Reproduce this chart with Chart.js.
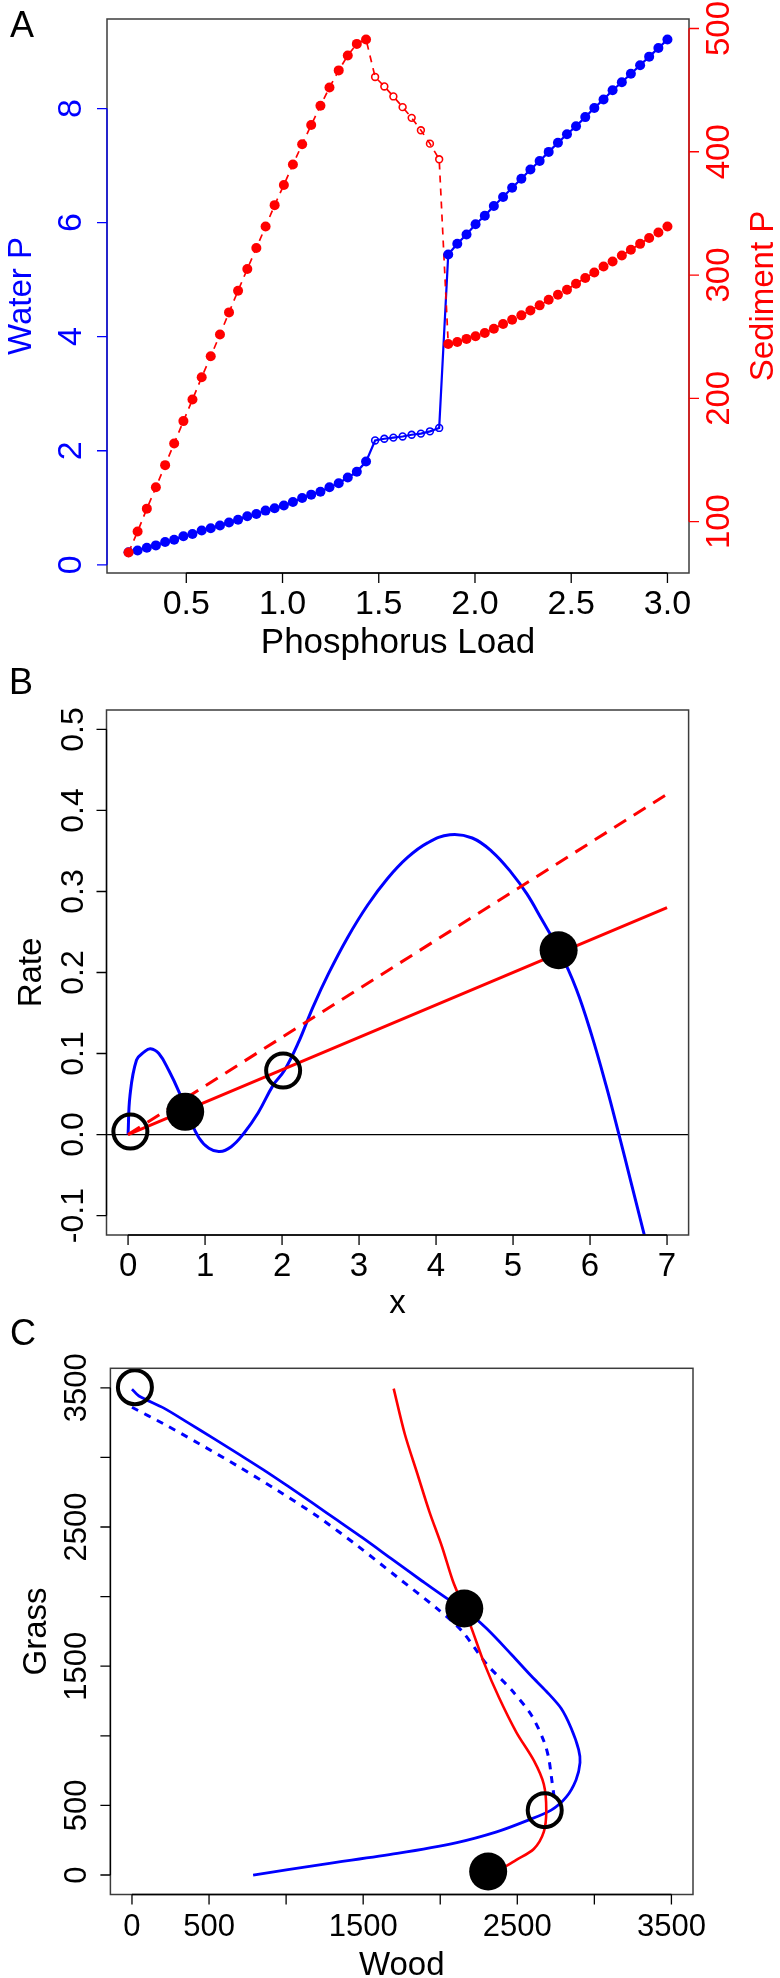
<!DOCTYPE html>
<html>
<head>
<meta charset="utf-8">
<script src="https://cdn.jsdelivr.net/npm/chart.js@4.4.1/dist/chart.umd.min.js"></script>
<style>
html,body{margin:0;padding:0;background:#fff;}
body{width:780px;height:1978px;position:relative;overflow:hidden;}
.panel{position:absolute;left:0;width:780px;}
canvas{display:block;}
</style>
</head>
<body>
<div class="panel" style="top:0;height:665px"><canvas id="cA" width="780" height="665"></canvas></div>
<div class="panel" style="top:655px;height:665px"><canvas id="cB" width="780" height="665"></canvas></div>
<div class="panel" style="top:1310px;height:668px"><canvas id="cC" width="780" height="668"></canvas></div>
<script>
// ---------------- DATA ----------------
// Panel A
const A_load = [0.200,0.247,0.295,0.342,0.390,0.437,0.485,0.532,0.580,0.627,0.675,0.722,0.769,0.817,0.864,0.912,0.959,1.007,1.054,1.102,1.149,1.197,1.244,1.292,1.339,1.386,1.434,1.481,1.529,1.576,1.624,1.671,1.719,1.766,1.814,1.861,1.908,1.956,2.003,2.051,2.098,2.146,2.193,2.241,2.288,2.336,2.383,2.431,2.478,2.525,2.573,2.620,2.668,2.715,2.763,2.810,2.858,2.905,2.953,3.000];
const A_waterP = [0.22,0.25,0.30,0.34,0.40,0.44,0.50,0.54,0.60,0.64,0.69,0.74,0.79,0.85,0.89,0.95,0.99,1.04,1.10,1.17,1.23,1.28,1.36,1.43,1.53,1.63,1.81,
  2.18,2.21,2.23,2.25,2.28,2.30,2.34,2.40,
  5.44,5.63,5.79,5.97,6.12,6.29,6.45,6.61,6.77,6.93,7.08,7.24,7.40,7.55,7.69,7.85,8.01,8.16,8.32,8.46,8.61,8.76,8.91,9.06,9.21];
const A_sedimentP = [74.9,91.9,110.5,127.8,145.8,163.4,181.5,199.0,217.1,234.1,251.7,269.7,287.3,304.9,321.9,339.4,356.7,373.1,389.6,406.1,421.7,437.3,452.2,466.0,478.1,487.5,491.1,
  460.7,453.0,444.9,436.2,427.5,417.4,406.6,393.9,
  244.1,245.7,248.2,250.3,253.0,256.5,260.3,263.8,267.3,271.3,275.4,280.0,284.0,288.1,292.9,297.6,302.1,307.0,311.0,315.9,320.5,325.3,330.0,334.5,339.4];
const A_stable = [1,1,1,1,1,1,1,1,1,1,1,1,1,1,1,1,1,1,1,1,1,1,1,1,1,1,1,
  0,0,0,0,0,0,0,0,
  1,1,1,1,1,1,1,1,1,1,1,1,1,1,1,1,1,1,1,1,1,1,1,1,1];
const A_xTicks = [0.5,1.0,1.5,2.0,2.5,3.0];
const A_xTickLabels = ['0.5','1.0','1.5','2.0','2.5','3.0'];
const A_leftTicks = [0,2,4,6,8];
const A_leftTickLabels = ['0','2','4','6','8'];
const A_rightTicks = [100,200,300,400,500];
const A_rightTickLabels = ['100','200','300','400','500'];

// Panel B
const B_x = [0,0.025,0.11,0.21,0.29,0.40,0.53,0.66,0.79,0.92,1.05,1.19,1.34,1.50,1.69,1.885,2.03,2.21,2.40,2.60,2.85,3.11,3.37,3.63,3.89,4.18,4.47,4.73,4.98,5.18,5.37,5.60,5.82,6.02,6.21,6.37,6.53,6.71];
const B_rate = [0.000,0.048,0.092,0.102,0.106,0.100,0.079,0.053,0.022,-0.004,-0.017,-0.021,-0.015,0.001,0.027,0.061,0.079,0.113,0.157,0.198,0.243,0.283,0.316,0.342,0.360,0.370,0.366,0.349,0.323,0.297,0.266,0.227,0.180,0.123,0.060,0.002,-0.058,-0.126];
const B_lossX = [0,7];
const B_lossLow = [0,0.28];
const B_lossHigh = [0,0.42];
const B_stableX = [0.742,5.592];
const B_stableY = [0.028,0.2275];
const B_unstableX = [0.03,2.014];
const B_unstableY = [0.0036,0.0789];
const B_xTicks = [0,1,2,3,4,5,6,7];
const B_xTickLabels = ['0','1','2','3','4','5','6','7'];
const B_yTicks = [-0.1,0,0.1,0.2,0.3,0.4,0.5];
const B_yTickLabels = ['-0.1','0.0','0.1','0.2','0.3','0.4','0.5'];

// Panel C
const C_blueSolidWood  = [0,45,207,368,529,690,851,1012,1173,1334,1495,1689,1882,2043,2156,2301,2462,2591,2688,2785,2849,2898,2907,2881,2817,2720,2559,2366,2108,1721,1238,786];
const C_blueSolidGrass = [3490,3441,3354,3246,3137,3025,2912,2793,2671,2547,2423,2267,2112,1987,1910,1770,1584,1429,1320,1196,1056,901,807,683,559,466,389,310,233,155,77,0];
const C_blueDotWood  = [0,207,433,690,948,1205,1463,1721,1978,2139,2301,2462,2591,2672,2704,2720,2743];
const C_blueDotGrass = [3360,3240,3100,2935,2760,2575,2365,2140,1915,1755,1515,1330,1149,963,839,715,528];
const C_redWood  = [1698,1770,1850,1930,2011,2082,2140,2204,2285,2382,2494,2607,2672,2688,2672,2607,2494,2398,2330];
const C_redGrass = [3494,3168,2888,2609,2360,2112,1956,1770,1522,1273,1025,823,652,466,310,187,109,47,30];
const C_stableWood = [2156,2311];
const C_stableGrass = [1915,25];
const C_unstableWood = [19,2678];
const C_unstableGrass = [3504,466];
const C_ticks = [0,500,1000,1500,2000,2500,3000,3500];
const C_tickLabels = ['0','500','','1500','','2500','','3500'];

// ---------------- HELPERS ----------------
const BLUE = '#0000FF', RED = '#FF0000', BLACK = '#000000';
const FAM = '"Liberation Sans", Arial, Helvetica, sans-serif';
const font = s => s + 'px ' + FAM;
const TICKLEN = 10, LETTERFONT = 36;
const xy = (xs, ys) => xs.map((x, i) => ({x: x, y: ys[i]}));

function vText(ctx, txt, xBase, yc, sz, color) {
  ctx.save();
  ctx.translate(xBase, yc);
  ctx.rotate(-Math.PI / 2);
  ctx.font = font(sz); ctx.fillStyle = color;
  ctx.textAlign = 'center'; ctx.textBaseline = 'alphabetic';
  ctx.fillText(txt, 0, 0);
  ctx.restore();
}
function hText(ctx, txt, x, y, sz, color, align) {
  ctx.save();
  ctx.font = font(sz); ctx.fillStyle = color;
  ctx.textAlign = align || 'center'; ctx.textBaseline = 'alphabetic';
  ctx.fillText(txt, x, y);
  ctx.restore();
}
function drawBox(ctx, a) {
  ctx.save(); ctx.strokeStyle = '#3c3c3c'; ctx.lineWidth = 1.5;
  ctx.strokeRect(a.left, a.top, a.right - a.left, a.bottom - a.top);
  ctx.restore();
}
function axisBottom(ctx, chart, id, ticks, labels, color, sz) {
  const s = chart.scales[id], a = chart.chartArea, y = a.bottom;
  ctx.save(); ctx.strokeStyle = color; ctx.lineWidth = 1.3;
  ctx.beginPath();
  ctx.moveTo(s.getPixelForValue(ticks[0]), y);
  ctx.lineTo(s.getPixelForValue(ticks[ticks.length - 1]), y);
  ticks.forEach(v => { const x = s.getPixelForValue(v); ctx.moveTo(x, y); ctx.lineTo(x, y + TICKLEN); });
  ctx.stroke(); ctx.restore();
  ticks.forEach((v, i) => { if (labels[i]) hText(ctx, labels[i], s.getPixelForValue(v), y + 41, sz, color); });
}
function axisLeft(ctx, chart, id, ticks, labels, color, gap, sz) {
  const s = chart.scales[id], a = chart.chartArea, x = a.left;
  ctx.save(); ctx.strokeStyle = color; ctx.lineWidth = 1.3;
  ctx.beginPath();
  ctx.moveTo(x, s.getPixelForValue(ticks[0]));
  ctx.lineTo(x, s.getPixelForValue(ticks[ticks.length - 1]));
  ticks.forEach(v => { const y = s.getPixelForValue(v); ctx.moveTo(x, y); ctx.lineTo(x - TICKLEN, y); });
  ctx.stroke(); ctx.restore();
  ticks.forEach((v, i) => { if (labels[i]) vText(ctx, labels[i], x - gap, s.getPixelForValue(v), sz, color); });
}
function axisRight(ctx, chart, id, ticks, labels, color, gap, sz) {
  const s = chart.scales[id], a = chart.chartArea, x = a.right;
  ctx.save(); ctx.strokeStyle = color; ctx.lineWidth = 1.3;
  ctx.beginPath();
  ctx.moveTo(x, s.getPixelForValue(ticks[0]));
  ctx.lineTo(x, s.getPixelForValue(ticks[ticks.length - 1]));
  ticks.forEach(v => { const y = s.getPixelForValue(v); ctx.moveTo(x, y); ctx.lineTo(x + TICKLEN, y); });
  ctx.stroke(); ctx.restore();
  ticks.forEach((v, i) => { if (labels[i]) vText(ctx, labels[i], x + gap, s.getPixelForValue(v), sz, color); });
}
function baseOptions(pad, scales) {
  return {
    responsive: false, animation: false, events: [],
    layout: {padding: pad},
    plugins: {legend: {display: false}, tooltip: {enabled: false}, title: {display: false}},
    scales: scales
  };
}
function hiddenLinear(min, max, axis, position) {
  return {type: 'linear', axis: axis, position: position, min: min, max: max, display: false};
}

// ---------------- PANEL A ----------------
new Chart(document.getElementById('cA'), {
  type: 'scatter',
  data: {
    datasets: [
      {data: xy(A_load, A_sedimentP), yAxisID: 'yR', showLine: false, clip: false, order: 0,
       pointRadius: A_stable.map(s => s ? 5 : 3.4),
       pointBorderWidth: A_stable.map(s => s ? 0 : 1.6),
       pointBackgroundColor: A_stable.map(s => s ? RED : 'rgba(0,0,0,0)'),
       pointBorderColor: RED},
      {data: xy(A_load, A_waterP), yAxisID: 'yL', showLine: false, clip: false, order: 1,
       pointRadius: A_stable.map(s => s ? 5 : 3.4),
       pointBorderWidth: A_stable.map(s => s ? 0 : 1.6),
       pointBackgroundColor: A_stable.map(s => s ? BLUE : 'rgba(0,0,0,0)'),
       pointBorderColor: BLUE},
      {data: xy(A_load, A_sedimentP), yAxisID: 'yR', showLine: true, pointRadius: 0, order: 2,
       borderColor: RED, borderWidth: 1.7, borderDash: [7, 6], tension: 0},
      {data: xy(A_load, A_waterP), yAxisID: 'yL', showLine: true, pointRadius: 0, order: 3,
       borderColor: BLUE, borderWidth: 2.2, tension: 0}
    ]
  },
  options: baseOptions({left: 107, right: 91, top: 19, bottom: 92}, {
    x: hiddenLinear(0.088, 3.112, 'x', 'bottom'),
    yL: hiddenLinear(-0.144, 9.57, 'y', 'left'),
    yR: hiddenLinear(58.3, 507.7, 'y', 'right')
  }),
  plugins: [{
    id: 'decorA',
    afterDraw(chart) {
      const ctx = chart.ctx, a = chart.chartArea;
      drawBox(ctx, a);
      axisBottom(ctx, chart, 'x', A_xTicks, A_xTickLabels, BLACK, 34);
      axisLeft(ctx, chart, 'yL', A_leftTicks, A_leftTickLabels, BLUE, 26, 34);
      axisRight(ctx, chart, 'yR', A_rightTicks, A_rightTickLabels, RED, 40, 33);
      hText(ctx, 'Phosphorus Load', (a.left + a.right) / 2, a.bottom + 80, 35, BLACK);
      vText(ctx, 'Water P', a.left - 76, (a.top + a.bottom) / 2, 33, BLUE);
      vText(ctx, 'Sediment P', a.right + 84, (a.top + a.bottom) / 2, 33, RED);
      hText(ctx, 'A', 10, 37, LETTERFONT, BLACK, 'left');
    }
  }]
});

// ---------------- PANEL B ----------------
new Chart(document.getElementById('cB'), {
  type: 'scatter',
  data: {
    datasets: [
      {data: xy(B_stableX, B_stableY), showLine: false, clip: false, order: 0,
       pointRadius: 19, pointBorderWidth: 0, pointBackgroundColor: BLACK},
      {data: xy(B_unstableX, B_unstableY), showLine: false, clip: false, order: 1,
       pointRadius: 17, pointBorderWidth: 4, pointBorderColor: BLACK, pointBackgroundColor: 'rgba(0,0,0,0)'},
      {data: xy(B_lossX, B_lossLow), showLine: true, pointRadius: 0, order: 2,
       borderColor: RED, borderWidth: 3},
      {data: xy(B_lossX, B_lossHigh), showLine: true, pointRadius: 0, order: 3,
       borderColor: RED, borderWidth: 3, borderDash: [14, 9]},
      {data: xy(B_x, B_rate), showLine: true, pointRadius: 0, order: 4,
       borderColor: BLUE, borderWidth: 3, tension: 0.4}
    ]
  },
  options: baseOptions({left: 106.5, right: 91.4, top: 55, bottom: 85}, {
    x: hiddenLinear(-0.28, 7.28, 'x', 'bottom'),
    y: hiddenLinear(-0.124, 0.524, 'y', 'left')
  }),
  plugins: [{
    id: 'zeroB',
    beforeDatasetsDraw(chart) {
      const ctx = chart.ctx, a = chart.chartArea, y = chart.scales.y.getPixelForValue(0);
      ctx.save(); ctx.strokeStyle = BLACK; ctx.lineWidth = 1.2;
      ctx.beginPath(); ctx.moveTo(a.left, y); ctx.lineTo(a.right, y); ctx.stroke(); ctx.restore();
    }
  }, {
    id: 'decorB',
    afterDraw(chart) {
      const ctx = chart.ctx, a = chart.chartArea;
      drawBox(ctx, a);
      axisBottom(ctx, chart, 'x', B_xTicks, B_xTickLabels, BLACK, 33);
      axisLeft(ctx, chart, 'y', B_yTicks, B_yTickLabels, BLACK, 24, 32);
      hText(ctx, 'x', (a.left + a.right) / 2, a.bottom + 78, 33, BLACK);
      vText(ctx, 'Rate', a.left - 66, (a.top + a.bottom) / 2, 33, BLACK);
      hText(ctx, 'B', 9, 39, LETTERFONT, BLACK, 'left');
    }
  }]
});

// ---------------- PANEL C ----------------
new Chart(document.getElementById('cC'), {
  type: 'scatter',
  data: {
    datasets: [
      {data: xy(C_stableWood, C_stableGrass), showLine: false, clip: false, order: 0,
       pointRadius: 19, pointBorderWidth: 0, pointBackgroundColor: BLACK},
      {data: xy(C_unstableWood, C_unstableGrass), showLine: false, clip: false, order: 1,
       pointRadius: 17, pointBorderWidth: 4, pointBorderColor: BLACK, pointBackgroundColor: 'rgba(0,0,0,0)'},
      {data: xy(C_redWood, C_redGrass), showLine: true, pointRadius: 0, order: 2,
       borderColor: RED, borderWidth: 2.6, tension: 0.3},
      {data: xy(C_blueSolidWood, C_blueSolidGrass), showLine: true, pointRadius: 0, order: 3,
       borderColor: BLUE, borderWidth: 2.8, tension: 0.3},
      {data: xy(C_blueDotWood, C_blueDotGrass), showLine: true, pointRadius: 0, order: 4,
       borderColor: BLUE, borderWidth: 3, borderDash: [7, 7], tension: 0.3}
    ]
  },
  options: baseOptions({left: 110.4, right: 87, top: 58.3, bottom: 83.5}, {
    x: hiddenLinear(-140, 3640, 'x', 'bottom'),
    y: hiddenLinear(-140, 3640, 'y', 'left')
  }),
  plugins: [{
    id: 'decorC',
    afterDraw(chart) {
      const ctx = chart.ctx, a = chart.chartArea;
      drawBox(ctx, a);
      axisBottom(ctx, chart, 'x', C_ticks, C_tickLabels, BLACK, 31);
      axisLeft(ctx, chart, 'y', C_ticks, C_tickLabels, BLACK, 24, 31);
      hText(ctx, 'Wood', (a.left + a.right) / 2, a.bottom + 80, 33, BLACK);
      vText(ctx, 'Grass', a.left - 64, (a.top + a.bottom) / 2, 33, BLACK);
      hText(ctx, 'C', 10, 35, LETTERFONT, BLACK, 'left');
    }
  }]
});
</script>
</body>
</html>
